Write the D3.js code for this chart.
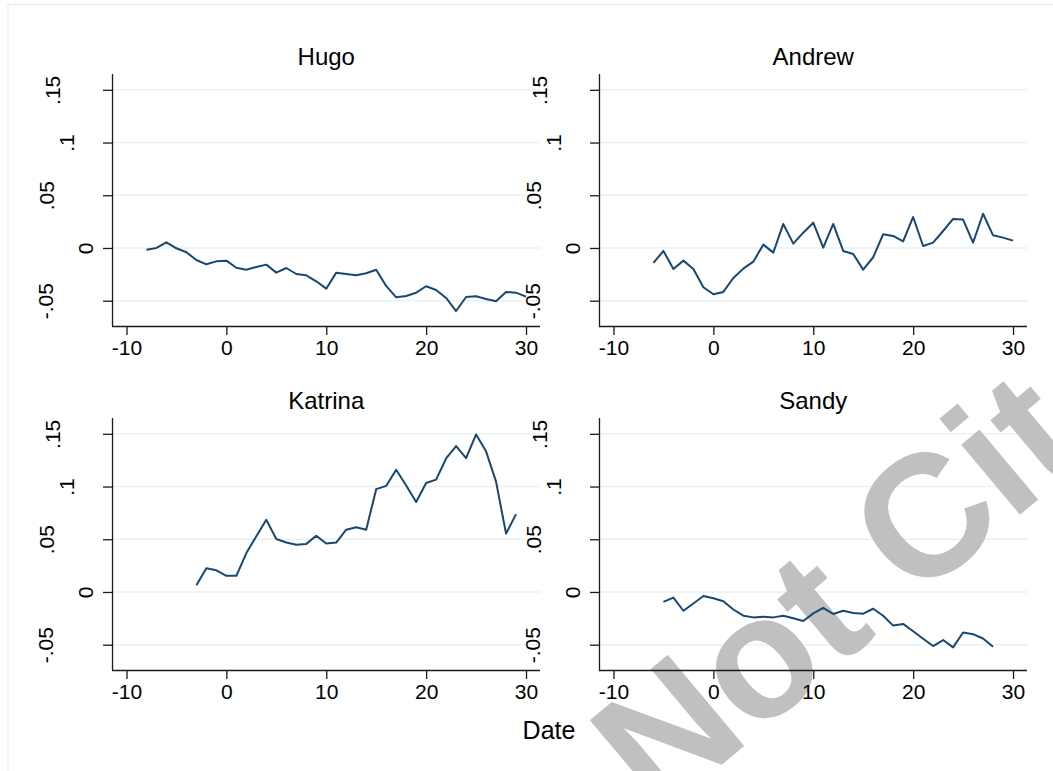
<!DOCTYPE html>
<html>
<head>
<meta charset="utf-8">
<script src="https://cdn.jsdelivr.net/npm/d3@7"></script>
<style>
  html, body { margin: 0; padding: 0; background: #ffffff; }
  svg { display: block; font-family: "Liberation Sans", Arial, sans-serif; }
</style>
</head>
<body>
<svg id="chart" width="1053" height="771"></svg>
<script>
// ---- data ----
const panels = ["Hugo", "Andrew", "Katrina", "Sandy"];
const xTicks = [-10, 0, 10, 20, 30];
const xTickLabels = ["-10", "0", "10", "20", "30"];
const yTicks = [-0.05, 0, 0.05, 0.1, 0.15];
const yTickLabels = ["-.05", "0", ".05", ".1", ".15"];
const xTitle = "Date";
const watermark = "Do Not Cite";

const hugoStart = -8;
const hugo = [-0.0016, 0.0000, 0.0054, -0.0003, -0.0041, -0.0114, -0.0155, -0.0127, -0.0120, -0.0187,
  -0.0206, -0.0180, -0.0158, -0.0234, -0.0190, -0.0247, -0.0259, -0.0316, -0.0386, -0.0234,
  -0.0247, -0.0259, -0.0240, -0.0206, -0.0360, -0.0468, -0.0455, -0.0424, -0.0363, -0.0398,
  -0.0474, -0.0598, -0.0465, -0.0458, -0.0484, -0.0506, -0.0417, -0.0424, -0.0462];

const andrewStart = -6;
const andrew = [-0.0142, -0.0028, -0.0199, -0.0120, -0.0199, -0.0373, -0.0439, -0.0417, -0.0285, -0.0196,
  -0.0130, 0.0032, -0.0044, 0.0228, 0.0041, 0.0145, 0.0240, 0.0003, 0.0228, -0.0028,
  -0.0057, -0.0205, -0.0088, 0.0130, 0.0114, 0.0063, 0.0294, 0.0019, 0.0051, 0.0161,
  0.0275, 0.0269, 0.0051, 0.0325, 0.0120, 0.0098, 0.0070];

const katrinaStart = -3;
const katrina = [0.0063, 0.0225, 0.0206, 0.0153, 0.0153, 0.0369, 0.0528, 0.0684, 0.0503, 0.0469,
  0.0447, 0.0456, 0.0534, 0.0459, 0.0469, 0.0591, 0.0613, 0.0591, 0.0975, 0.1006,
  0.1159, 0.1009, 0.0853, 0.1034, 0.1066, 0.1266, 0.1384, 0.1269, 0.1494, 0.1334,
  0.1047, 0.0553, 0.0738];

const sandyStart = -5;
const sandy = [-0.0094, -0.0053, -0.0178, -0.0109, -0.0038, -0.0059, -0.0088, -0.0166, -0.0225, -0.0241,
  -0.0234, -0.0241, -0.0225, -0.0250, -0.0275, -0.0203, -0.0150, -0.0209, -0.0178, -0.0200,
  -0.0206, -0.0159, -0.0225, -0.0319, -0.0303, -0.0372, -0.0444, -0.0513, -0.0456, -0.0525,
  -0.0384, -0.0400, -0.0441, -0.0519];

const seriesValues = [hugo, andrew, katrina, sandy];
const seriesStarts = [hugoStart, andrewStart, katrinaStart, sandyStart];

// ---- layout / style ----
const W = 1053, H = 771;
const lineColor = "#1a476f";
const gridColor = "#eaf2f3";
const axisColor = "#1a1a1a";
const fontFamily = '"Liberation Sans", Arial, sans-serif';
const tickFont = 21;
const colX = [112, 599];      // left edge of plot region per column
const plotW = 428;
const rowY = [74, 418];       // top of plot region per row
const plotH = 252;
const xDomain = [-11.45, 31.4];
const yDomain = [-0.074, 0.165];
// horizontal offset of rotated y labels (ink centre) from axis, as in the reference
const yLabelOffset = {"-.05": -67, "0": -27, ".05": -65.5, ".1": -45.5, ".15": -59.5};

const svg = d3.select("#chart");

// outer frame
svg.append("rect").attr("x", 8).attr("y", 4.5).attr("width", W).attr("height", H)
  .attr("fill", "#ffffff").attr("stroke", "#eaf2f3").attr("stroke-width", 1.5);

const gridLayer = svg.append("g");
const wmLayer = svg.append("g");
const dataLayer = svg.append("g");

panels.forEach((name, i) => {
  const col = i % 2, row = Math.floor(i / 2);
  const x0 = colX[col], y0 = rowY[row];
  const x = d3.scaleLinear().domain(xDomain).range([x0, x0 + plotW]);
  const y = d3.scaleLinear().domain(yDomain).range([y0 + plotH, y0]);

  // gridlines
  gridLayer.selectAll(null).data(yTicks).enter().append("line")
    .attr("x1", x0).attr("x2", x0 + plotW)
    .attr("y1", d => y(d)).attr("y2", d => y(d))
    .attr("stroke", gridColor).attr("stroke-width", 1.5);

  // data line
  const pts = seriesValues[i].map((v, k) => [seriesStarts[i] + k, v]);
  dataLayer.append("path").datum(pts)
    .attr("d", d3.line().x(d => x(d[0])).y(d => y(d[1])))
    .attr("fill", "none").attr("stroke", lineColor).attr("stroke-width", 2)
    .attr("stroke-linejoin", "round");

  // x axis
  const xAxis = d3.axisBottom(x).tickValues(xTicks)
    .tickFormat((d, k) => xTickLabels[k]).tickSize(9).tickPadding(5).tickSizeOuter(0);
  const gx = dataLayer.append("g").attr("transform", `translate(0,${y0 + plotH})`).call(xAxis);
  gx.select(".domain").attr("d", `M${x0},0.5H${x0 + plotW}`).attr("stroke", axisColor).attr("stroke-width", 1.3);
  gx.selectAll(".tick line").attr("stroke", axisColor).attr("stroke-width", 1.3);
  gx.selectAll(".tick text").attr("font-family", fontFamily).attr("font-size", tickFont)
    .attr("fill", "#000").attr("dy", "0.71em");

  // y axis
  const yAxis = d3.axisLeft(y).tickValues(yTicks)
    .tickFormat((d, k) => yTickLabels[k]).tickSize(9).tickSizeOuter(0);
  const gy = dataLayer.append("g").attr("transform", `translate(${x0},0)`).call(yAxis);
  gy.select(".domain").attr("d", `M0.5,${y0}V${y0 + plotH}`).attr("stroke", axisColor).attr("stroke-width", 1.3);
  gy.selectAll(".tick line").attr("stroke", axisColor).attr("stroke-width", 1.3);
  gy.selectAll(".tick text")
    .attr("font-family", fontFamily).attr("font-size", tickFont).attr("fill", "#000")
    .attr("text-anchor", "middle").attr("dy", null).attr("x", null)
    .attr("transform", function(d, k) {
      const lbl = yTickLabels[k];
      const cx = yLabelOffset[lbl] + 0.358 * tickFont; // baseline position
      return `translate(${cx},0) rotate(-90)`;
    });

  // panel title
  dataLayer.append("text").attr("x", x(10)).attr("y", y0 - 9)
    .attr("text-anchor", "middle").attr("font-family", fontFamily)
    .attr("font-size", 24).attr("fill", "#000").text(name);
});

// x title
dataLayer.append("text").attr("x", 549).attr("y", 739).attr("text-anchor", "middle")
  .attr("font-family", fontFamily).attr("font-size", 25).attr("fill", "#000").text(xTitle);

// watermark
wmLayer.append("text").attr("transform", "translate(444,998) rotate(-40)")
  .attr("font-family", fontFamily).attr("font-size", 173).attr("font-weight", "bold")
  .attr("fill", "#c0c0c0").text(watermark);
</script>
</body>
</html>
